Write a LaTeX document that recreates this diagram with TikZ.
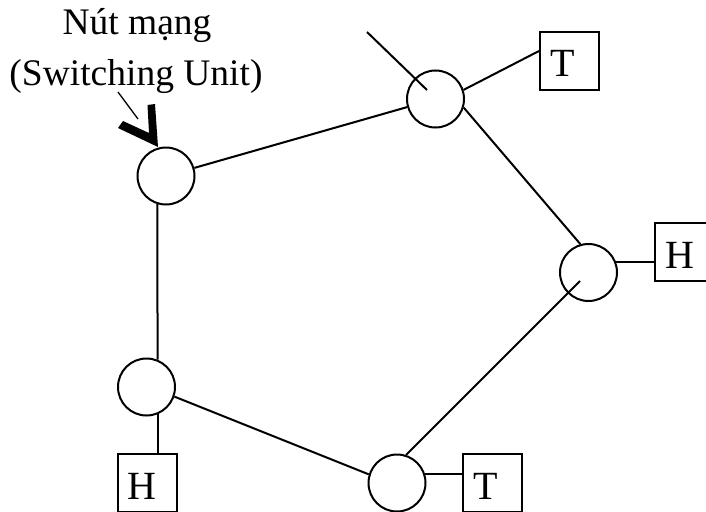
\documentclass[tikz,border=0pt]{standalone}
\usepackage{fontspec}
\setmainfont{Liberation Serif}
\usetikzlibrary{calc}
\tikzset{
  net/.style={circle, draw, line width=2pt, minimum size=57pt, inner sep=0pt},
  termbox/.style={draw, line width=2pt, text width=39pt, align=left, inner xsep=10pt,
    inner ysep=0pt, text height=45pt, text depth=13pt, font=\fontsize{40}{40}\selectfont},
  link/.style={line width=2pt},
  caption/.style={font=\fontsize{37.5}{37.5}\selectfont, inner sep=0pt, anchor=base}
}
\begin{document}
\begin{tikzpicture}[x=1pt,y=-1pt]
\useasboundingbox (0,0) rectangle (706,511);
\node[net] (A) at (166,176) {};
\node[net] (B) at (435.5,99) {};
\node[net] (C) at (588.5,272.5) {};
\node[net] (D) at (146.5,387) {};
\node[net] (E) at (397,483) {};
\node[termbox] (T1) at (569.5,61) {T};
\node[termbox] (H2) at (684.5,252) {H};
\node[termbox] (H1) at (147,483) {H};
\node[termbox] (T2) at (492.5,483) {T};
\coordinate (topend) at (367,32);
\coordinate (Bin) at ($(B)+(-8.5,-9)$);
\coordinate (Cin) at ($(C)+(-8.5,8.5)$);
\draw[link] (A) -- (B);
\draw[link] (A.253) -- (D.68);
\draw[link] (D.292) -- (D.292 |- H1.north);
\draw[link] (D.-19) -- (E.163);
\draw[link] (E.72) -- (Cin);
\draw[link] (B.-17) -- (C.106);
\draw[link] (B.18) -- ($(T1.west)+(0,-10)$);
\draw[link] (topend) -- (Bin);
\draw[link] (C.21) -- (C.21 -| H2.west);
\draw[link] (E.18) -- (E.18 -| T2.west);
\node[caption] (cap1) at (137,35) {Nút mạng};
\node[caption] (cap2) at (136,85) {(Switching Unit)};
\coordinate (p1) at (118,92);
\coordinate (p2) at (138,119);
\draw[line width=1.3pt] (p1) -- (p2);
\fill (123,121) -- (149,133) -- (147.5,105) -- (155,104) -- (158,147) -- (118,128) -- cycle;
\end{tikzpicture}
\end{document}
